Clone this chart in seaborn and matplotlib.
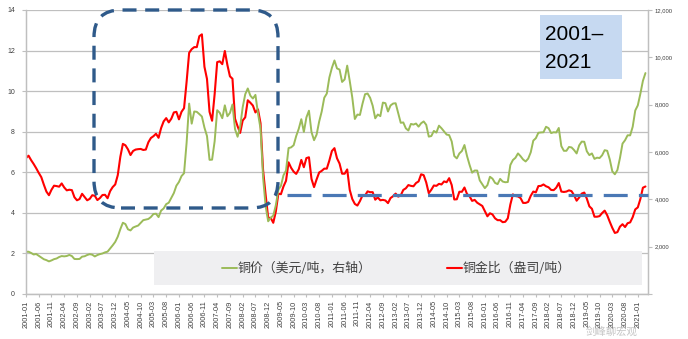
import matplotlib
matplotlib.use("Agg")
import matplotlib.pyplot as plt
from matplotlib.patches import FancyBboxPatch, Rectangle
from matplotlib.lines import Line2D
from matplotlib.ticker import FuncFormatter, FixedLocator
import seaborn as sns
import pandas as pd
import numpy as np

# Monthly categories 2001-01 .. 2021-04
months = pd.date_range("2001-01-01", periods=244, freq="MS").strftime("%Y-%m").tolist()

# LME copper price, USD per tonne (right axis)
copper_usd = [
    1779, 1787, 1735, 1669, 1689, 1613, 1542, 1469, 1432, 1378, 1419, 1472,
    1500, 1563, 1603, 1590, 1606, 1650, 1603, 1480, 1475, 1481, 1578, 1595,
    1648, 1683, 1660, 1587, 1646, 1686, 1712, 1760, 1790, 1921, 2056, 2201,
    2423, 2737, 3011, 2954, 2733, 2686, 2807, 2853, 2892, 3008, 3120, 3147,
    3170, 3254, 3380, 3392, 3249, 3525, 3614, 3797, 3857, 4059, 4265, 4577,
    4734, 4982, 5103, 6387, 8046, 7197, 7712, 7697, 7602, 7500, 7030, 6674,
    5669, 5676, 6452, 7766, 7657, 7428, 7972, 7510, 7650, 8008, 6965, 6644,
    7061, 7888, 8439, 8685, 8383, 8260, 8414, 7634, 6991, 4926, 3717, 3072,
    3221, 3315, 3750, 4407, 4569, 5014, 5216, 6165, 6196, 6288, 6676, 6982,
    7386, 6848, 7463, 7745, 6838, 6499, 6735, 7284, 7709, 8292, 8470, 9147,
    9556, 9868, 9530, 9483, 8960, 9067, 9650, 9000, 8300, 7394, 7581, 7566,
    8040, 8441, 8471, 8289, 7955, 7423, 7584, 7515, 8088, 8062, 7711, 7966,
    8047, 8061, 7646, 7234, 7249, 7000, 6907, 7186, 7159, 7203, 7071, 7215,
    7291, 7149, 6650, 6674, 6891, 6821, 7113, 7002, 6872, 6737, 6713, 6446,
    5831, 5729, 5940, 6042, 6295, 5833, 5457, 5127, 5217, 5216, 4800, 4638,
    4472, 4599, 4954, 4873, 4695, 4642, 4864, 4751, 4722, 4731, 5450, 5660,
    5755, 5941, 5825, 5684, 5600, 5720, 5985, 6480, 6583, 6812, 6827, 6834,
    7066, 7007, 6800, 6836, 6825, 7016, 6248, 6050, 6051, 6213, 6194, 6082,
    5939, 6281, 6439, 6433, 6030, 5868, 5940, 5709, 5760, 5745, 5862, 6077,
    6051, 5687, 5183, 5058, 5239, 5745, 6354, 6498, 6706, 6703, 7068, 7755,
    7970, 8460, 9005, 9335,
]

# Copper / gold ratio, ounces per tonne (left axis)
cu_au_ratio = [
    6.70, 6.82, 6.60, 6.41, 6.20, 5.97, 5.76, 5.39, 5.05, 4.87, 5.14, 5.34,
    5.32, 5.29, 5.45, 5.25, 5.11, 5.14, 5.12, 4.77, 4.62, 4.68, 4.94, 4.78,
    4.62, 4.69, 4.87, 4.84, 4.63, 4.73, 4.88, 4.89, 4.72, 5.07, 5.27, 5.40,
    5.86, 6.76, 7.40, 7.33, 7.13, 6.85, 7.05, 7.12, 7.14, 7.15, 7.10, 7.12,
    7.48, 7.69, 7.78, 7.90, 7.70, 8.18, 8.51, 8.67, 8.46, 8.64, 8.95, 8.98,
    8.61, 8.98, 9.16, 10.46, 11.89, 12.07, 12.17, 12.17, 12.71, 12.80, 11.20, 10.60,
    8.98, 8.54, 9.85, 11.43, 11.47, 11.33, 11.98, 11.29, 10.73, 10.61, 8.64, 8.27,
    7.94, 8.55, 8.71, 9.55, 9.43, 9.29, 8.95, 9.10, 8.42, 6.11, 4.89, 3.76,
    3.75, 3.51, 4.06, 4.95, 4.92, 5.30, 5.58, 6.49, 6.22, 6.03, 5.92, 6.15,
    6.61, 6.25, 6.70, 6.74, 5.67, 5.27, 5.65, 5.99, 6.07, 6.18, 6.18, 6.58,
    7.05, 7.19, 6.69, 6.43, 5.93, 5.93, 6.14, 5.13, 4.68, 4.44, 4.36, 4.58,
    4.86, 4.85, 5.06, 5.02, 5.02, 4.65, 4.76, 4.62, 4.64, 4.61, 4.48, 4.73,
    4.82, 4.95, 4.80, 4.86, 5.13, 5.21, 5.37, 5.33, 5.31, 5.47, 5.55, 5.90,
    5.86, 5.50, 4.97, 5.14, 5.35, 5.33, 5.43, 5.40, 5.55, 5.51, 5.71, 5.37,
    4.66, 4.67, 5.04, 5.04, 5.25, 4.93, 4.82, 4.59, 4.64, 4.50, 4.42, 4.34,
    4.08, 3.83, 3.98, 3.92, 3.73, 3.64, 3.64, 3.54, 3.56, 3.73, 4.41, 4.91,
    4.83, 4.81, 4.73, 4.49, 4.49, 4.54, 4.84, 5.05, 5.01, 5.32, 5.33, 5.40,
    5.31, 5.26, 5.13, 5.12, 5.24, 5.47, 5.05, 5.03, 5.05, 5.11, 5.07, 4.87,
    4.60, 4.76, 4.95, 5.00, 4.70, 4.32, 4.20, 3.81, 3.81, 3.84, 3.99, 4.11,
    3.88, 3.56, 3.26, 3.01, 3.05, 3.32, 3.44, 3.30, 3.49, 3.53, 3.79, 4.17,
    4.27, 4.68, 5.24, 5.30,
]

# Post-2009 reference level of the ratio
ratio_level = 4.9
ratio_level_start = "2009-07"

label_copper = "铜价（美元/吨，右轴）"
label_ratio = "铜金比（盎司/吨）"
period_text = ["2001–", "2021"]
watermark = "剑峰聊宏观"

sns.set_theme(style="white")
plt.rcParams["font.family"] = ["Liberation Sans", "DejaVu Sans"]

df = pd.DataFrame({"month": months, "copper": copper_usd, "ratio": cu_au_ratio})
df["idx"] = np.arange(len(df))

W, H = 688, 339
fig = plt.figure(figsize=(W / 100, H / 100), dpi=100)
fig.patch.set_facecolor("white")


def fx(px):
    return px / W


def fy(py):
    return 1 - py / H


ax = fig.add_axes([fx(26), fy(294), (648 - 26) / W, (294 - 10) / H])
ax2 = ax.twinx()

grey = "#bfbfbf"
txt = "#404040"

sns.lineplot(data=df, x="idx", y="ratio", ax=ax, color="#ff0000", lw=1.5)
sns.lineplot(data=df, x="idx", y="copper", ax=ax2, color="#9bbb59", lw=1.4)

ax.set_xlim(0, len(df))
ax.set_ylim(0, 14)
ax2.set_ylim(0, 12000)

ax.set_xlabel("")
ax.set_ylabel("")
ax2.set_ylabel("")

# y grid & ticks
ax.yaxis.set_major_locator(FixedLocator(np.arange(0, 15, 2)))
ax.yaxis.grid(True, color=grey, lw=0.9)
ax.xaxis.grid(False)
ax2.grid(False)
ax.set_axisbelow(True)
ax.tick_params(axis="y", which="major", left=True, length=3, width=0.8,
               color=grey, labelsize=5, labelcolor=txt, pad=5)
ax.yaxis.set_major_formatter(FuncFormatter(lambda v, p: f"{v:.0f}"))

ax2.yaxis.set_major_locator(FixedLocator(np.arange(0, 12001, 2000)))
ax2.yaxis.set_major_formatter(FuncFormatter(lambda v, p: "" if v == 0 else f"{v:,.0f}"))
ax2.tick_params(axis="y", right=True, length=3, width=0.8, color=grey,
                labelsize=4.2, labelcolor=txt, pad=2)

# x ticks every 5 months
xt = list(range(0, len(df), 5))
ax.set_xticks(xt)
ax.set_xticklabels([months[i] for i in xt], rotation=90, fontsize=5.3, color=txt)
ax.tick_params(axis="x", bottom=True, length=2.5, width=0.8, color=grey, pad=2)

for a in (ax, ax2):
    for s in a.spines.values():
        s.set_color(grey)
        s.set_linewidth(0.9)
    a.spines["top"].set_visible(False)

# horizontal dashed reference level
x_start = months.index(ratio_level_start) + 0.5
ax2.plot([x_start, len(df)], [ratio_level, ratio_level], transform=ax.transData,
         color="#4a78b5", lw=2.3, linestyle=(0, (7.5, 3.5)), solid_capstyle="butt",
         dash_capstyle="butt", clip_on=False, zorder=5)

# rounded dashed frame around the 2003-2009 boom
frame = FancyBboxPatch((0.94, (H - 208) / 100), 1.84, 1.98,
                       boxstyle="round,pad=0,rounding_size=0.27",
                       transform=fig.dpi_scale_trans, fill=False,
                       edgecolor="#2f5a8a", lw=2.4, linestyle=(0, (4.2, 2.6)),
                       zorder=6)
fig.add_artist(frame)

# period box
fig.add_artist(Rectangle((fx(540), fy(79)), fx(622) - fx(540), fy(15) - fy(79),
                         transform=fig.transFigure, facecolor="#c6d9f1",
                         edgecolor="none", zorder=3))
fig.text(fx(545), fy(35), period_text[0], fontsize=15, color="black",
         va="center", ha="left", zorder=4)
fig.text(fx(545), fy(63), period_text[1], fontsize=15, color="black",
         va="center", ha="left", zorder=4)

# legend panel
fig.add_artist(Rectangle((fx(154), fy(285)), fx(642) - fx(154), fy(251) - fy(285),
                         transform=fig.transFigure, facecolor="#efeff1",
                         edgecolor="none", zorder=3))
fig.add_artist(Line2D([fx(222), fx(237)], [fy(268), fy(268)], transform=fig.transFigure,
                      color="#9bbb59", lw=1.4, zorder=4))
fig.text(fx(238), fy(268), label_copper, fontsize=9.3, color=txt, va="center",
         ha="left", family=["Noto Sans CJK SC", "DejaVu Sans"], zorder=4)
fig.add_artist(Line2D([fx(447), fx(462)], [fy(268), fy(268)], transform=fig.transFigure,
                      color="#ff0000", lw=1.5, zorder=4))
fig.text(fx(463), fy(268), label_ratio, fontsize=9.3, color=txt, va="center",
         ha="left", family=["Noto Sans CJK SC", "DejaVu Sans"], zorder=4)

# watermark, below the date labels
fig.text(fx(612), fy(332), watermark, fontsize=7.5, color="#c0c0c0", alpha=0.9,
         va="center", ha="center", family=["Noto Sans CJK SC", "DejaVu Sans"], zorder=7)

fig.savefig("out.png", dpi=100, facecolor="white")
